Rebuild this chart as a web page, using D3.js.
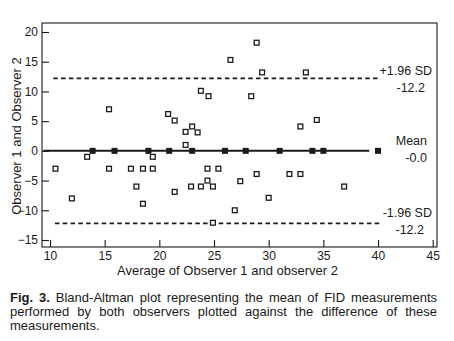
<!DOCTYPE html>
<html><head><meta charset="utf-8">
<script src="https://cdn.jsdelivr.net/npm/d3@7/dist/d3.min.js"></script>
<style>
html,body{margin:0;padding:0;background:#fff;}
svg{display:block;font-family:"Liberation Sans",Arial,Helvetica,sans-serif;}
</style></head><body>
<svg id="c" width="454" height="341"></svg>
<script>
// ---- data ----
const hollowX = [15.4,13.4,10.5,15.4,12.0,23.8,20.8,21.4,22.4,23.0,23.5,22.4,19.4,17.4,18.5,19.4,17.9,21.4,22.9,23.8,18.5,28.9,26.5,29.4,24.5,28.4,24.4,25.4,28.9,24.4,24.9,27.4,30.0,26.9,24.9,33.4,34.4,32.9,31.9,32.9,36.9];
const hollowY = [7.0,-1.0,-3.0,-3.0,-8.0,10.1,6.2,5.1,3.2,4.1,3.1,1.0,-1.0,-3.0,-3.0,-3.0,-6.0,-6.9,-6.0,-6.0,-8.9,18.2,15.3,13.2,9.2,9.2,-3.0,-3.0,-3.9,-5.0,-6.0,-5.1,-7.9,-10.0,-12.1,13.2,5.2,4.1,-3.9,-3.9,-6.0];
const filledX = [13.9,15.9,19.0,20.9,23.0,26.0,27.9,31.0,34.0,35.0,40.0];
const filledY = [0,0,0,0,0,0,0,0,0,0,0];
const xTicks = [10,15,20,25,30,35,40,45];
const yTicks = [-15,-10,-5,0,5,10,15,20];
const meanLine = {y:0, x0:9.4, x1:39.2};
const upperLine = {y:12.2, x0:10.3, x1:40.1};
const lowerLine = {y:-12.2, x0:10.45, x1:40.25};
const refLabels = [
  {t:"+1.96 SD", v:12.2, dy:-3.4, xe:432},
  {t:"-12.2", v:12.2, dy:13.6, xe:425},
  {t:"Mean", v:0, dy:-5.9, xe:427},
  {t:"-0.0", v:0, dy:11.1, xe:427},
  {t:"-1.96 SD", v:-12.2, dy:-6.4, xe:432},
  {t:"-12.2", v:-12.2, dy:10.6, xe:424}
];
const xTitle = "Average of Observer 1 and observer 2";
const yTitle = "Observer 1 and Observer 2";
const captionLines = [
  [{w:"Fig.",b:1},{w:"3.",b:1},"Bland-Altman","plot","representing","the","mean","of","FID","measurements"],
  ["performed","by","both","observers","plotted","against","the","difference","of","these"],
  ["measurements."]
];

// ---- layout ----
const svg = d3.select("#c");
const ink = "#1a1a1a";
const L=42, R=437, T=23, B=247;
const x = d3.scaleLinear().domain([10,45]).range([50,432.7]);
const y = d3.scaleLinear().domain([-15,20]).range([240,32]);

// frame
svg.append("rect").attr("x",L).attr("y",T).attr("width",R-L).attr("height",B-T)
  .attr("fill","none").attr("stroke",ink).attr("stroke-width",1.1);

// axes
const ya = svg.append("g").attr("transform",`translate(${L},0)`)
  .call(d3.axisLeft(y).tickValues(yTicks).tickSizeInner(-7).tickSizeOuter(0).tickPadding(4));
const xa = svg.append("g").attr("transform",`translate(0,${B})`)
  .call(d3.axisBottom(x).tickValues(xTicks).tickSizeInner(-7).tickSizeOuter(0).tickPadding(4));
[ya,xa].forEach(g=>{
  g.select(".domain").remove();
  g.selectAll("line").attr("stroke",ink).attr("stroke-width",1.1);
  g.selectAll("text").attr("fill",ink).style("font-size","12px").style("font-family","'Liberation Sans',Arial,sans-serif");
});

// reference lines
svg.append("line").attr("x1",x(meanLine.x0)).attr("x2",x(meanLine.x1))
  .attr("y1",y(meanLine.y)).attr("y2",y(meanLine.y)).attr("stroke",ink).attr("stroke-width",2);
[upperLine,lowerLine].forEach(l=>{
  svg.append("line").attr("x1",x(l.x0)).attr("x2",x(l.x1))
    .attr("y1",y(l.y)).attr("y2",y(l.y)).attr("stroke",ink).attr("stroke-width",1.8)
    .attr("stroke-dasharray","4.5,3.3");
});

// points
const hollow = hollowX.map((v,i)=>({x:v,y:hollowY[i]}));
svg.append("g").selectAll("rect").data(hollow).join("rect")
  .attr("x",d=>x(d.x)-2.4).attr("y",d=>y(d.y)-2.4).attr("width",4.8).attr("height",4.8)
  .attr("fill","#fff").attr("stroke",ink).attr("stroke-width",1.3);
const filled = filledX.map((v,i)=>({x:v,y:filledY[i]}));
svg.append("g").selectAll("rect").data(filled).join("rect")
  .attr("x",d=>x(d.x)-3).attr("y",d=>y(d.y)-3).attr("width",6).attr("height",6)
  .attr("fill",ink);

// reference labels
svg.append("g").selectAll("text").data(refLabels).join("text")
  .attr("x",d=>d.xe).attr("y",d=>y(d.v)+d.dy).attr("text-anchor","end")
  .attr("fill",ink).style("font-size","12.5px").text(d=>d.t);

// axis titles
svg.append("text").attr("x",227.5).attr("y",274.5).attr("text-anchor","middle")
  .attr("fill",ink).style("font-size","13px").text(xTitle);
svg.append("text").attr("transform","translate(20.5,136) rotate(-90)").attr("text-anchor","middle")
  .attr("fill",ink).style("font-size","13px").text(yTitle);

// caption (justified)
const capL=10, capR=437, base0=302, lh=14;
captionLines.forEach((line,li)=>{
  const words = line.map(w=>typeof w==="string"?{w:w,b:0}:w);
  const nodes = words.map(wd=>svg.append("text").attr("y",base0+li*lh).attr("fill",ink)
    .style("font-size","13px").style("font-weight",wd.b?"bold":"normal").text(wd.w));
  const widths = nodes.map(n=>n.node().getComputedTextLength());
  const total = d3.sum(widths);
  const justify = li < captionLines.length-1;
  const gap = justify && words.length>1 ? (capR-capL-total)/(words.length-1) : 3.6;
  let cx = capL;
  nodes.forEach((n,i)=>{ n.attr("x",cx); cx += widths[i]+gap; });
});
</script>
</body></html>
